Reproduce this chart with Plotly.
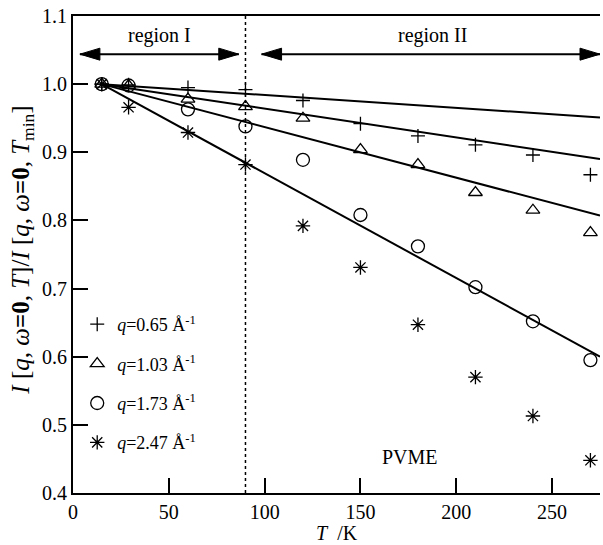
import plotly.graph_objects as go

# Temperature points (K)
T = [15, 29, 60, 90, 120, 150, 180, 210, 240, 270]

# Normalized elastic intensity I[q,0,T]/I[q,0,Tmin] for each q
q065 = [1.000, 0.999, 0.995, 0.992, 0.976, 0.942, 0.924, 0.911, 0.896, 0.867]
q103 = [1.000, 0.998, 0.978, 0.967, 0.950, 0.904, 0.882, 0.841, 0.815, 0.782]
q173 = [1.000, 0.998, 0.963, 0.938, 0.889, 0.808, 0.762, 0.702, 0.652, 0.595]
q247 = [1.000, 0.966, 0.929, 0.882, 0.792, 0.731, 0.647, 0.570, 0.513, 0.448]

q_labels = ["0.65", "1.03", "1.73", "2.47"]
symbols = ["cross-thin-open", "triangle-up-open", "circle-open", "asterisk-open"]
sizes = [10, 12, 13, 12]

# Linear fits to the low-temperature region: I = 1 + slope*(T - T_fit0)
fit_T = [15, 275]
fit_slope = [-0.000188, -0.000423, -0.000742, -0.001538]

T_boundary = 90  # boundary between region I and region II

FONT = "Liberation Serif"

fig = go.Figure()

for i, ys in enumerate([q065, q103, q173, q247]):
    fig.add_trace(go.Scatter(
        x=T, y=ys, mode="markers",
        name=f"<i>q</i>={q_labels[i]} Å<sup>-1</sup>",
        legendgroup=f"g{i}",
        marker=dict(symbol=symbols[i], size=sizes[i], color="black",
                    line=dict(color="black", width=1.3)),
    ))

for s in fit_slope:
    fig.add_trace(go.Scatter(
        x=fit_T, y=[1 + s * (t - fit_T[0]) for t in fit_T],
        mode="lines", line=dict(color="black", width=2),
        showlegend=False, hoverinfo="skip",
    ))

shapes = [
    # boundary line
    dict(type="line", xref="x", yref="y", x0=T_boundary, x1=T_boundary,
         y0=0.4, y1=1.1, line=dict(color="black", width=1.5, dash="dot")),
]

# double-headed region arrows
arrow_y = 1.044
regions = [(3.6, 86.5), (98.4, 275)]
for x0, x1 in regions:
    shapes.append(dict(type="line", xref="x", yref="y", x0=x0, x1=x1,
                       y0=arrow_y, y1=arrow_y, line=dict(color="black", width=2)))
    shapes.append(dict(type="path", xref="x", yref="y", xsizemode="pixel",
                       ysizemode="pixel", xanchor=x0, yanchor=arrow_y,
                       path="M0,0 L20,6 L20,-6 Z", fillcolor="black",
                       line=dict(color="black", width=1)))
    shapes.append(dict(type="path", xref="x", yref="y", xsizemode="pixel",
                       ysizemode="pixel", xanchor=x1, yanchor=arrow_y,
                       path="M0,0 L-20,6 L-20,-6 Z", fillcolor="black",
                       line=dict(color="black", width=1)))

annotations = [
    dict(x=45.3, y=1.071, xref="x", yref="y", text="region I", showarrow=False,
         font=dict(family=FONT, size=20, color="black")),
    dict(x=187.5, y=1.071, xref="x", yref="y", text="region II", showarrow=False,
         font=dict(family=FONT, size=20, color="black")),
    dict(x=176, y=0.453, xref="x", yref="y", text="PVME", showarrow=False,
         font=dict(family=FONT, size=20, color="black")),
    dict(x=0.5, y=-0.083, xref="paper", yref="paper", text="<i>T</i>  /K",
         xanchor="center", yanchor="middle",
         showarrow=False, font=dict(family=FONT, size=20, color="black")),
    dict(x=-0.095, y=0.51, xref="paper", yref="paper", textangle=-90,
         xanchor="center", yanchor="middle",
         text=("<i>I</i> [<i>q</i>, <i>ω</i><b>=0</b>, <i>T</i>]/"
               "<i>I</i> [<i>q</i>, <i>ω</i><b>=0</b>, <i>T</i><sub>min</sub>]"),
         showarrow=False, font=dict(family=FONT, size=25, color="black")),
]

axis_common = dict(
    showgrid=False, zeroline=False, showline=True, linecolor="black", linewidth=2,
    ticks="inside", ticklen=15, tickwidth=2, tickcolor="black",
    tickfont=dict(family=FONT, size=20, color="black"),
)

fig.update_layout(
    width=603, height=545,
    margin=dict(l=73, r=3, t=16, b=52),
    paper_bgcolor="white", plot_bgcolor="white",
    xaxis=dict(range=[0, 275], tickvals=[0, 50, 100, 150, 200, 250],
               mirror=True, **axis_common),
    yaxis=dict(range=[0.4, 1.1], tickvals=[0.4, 0.5, 0.6, 0.7, 0.8, 0.9, 1.0, 1.1],
               tickformat=".1f", **axis_common),
    shapes=shapes,
    annotations=annotations,
    legend=dict(x=0.008, y=0.392, xanchor="left", yanchor="top",
                bgcolor="rgba(0,0,0,0)", tracegroupgap=13,
                font=dict(family=FONT, size=18, color="black")),
    showlegend=True,
)

fig.write_html("out.html")
